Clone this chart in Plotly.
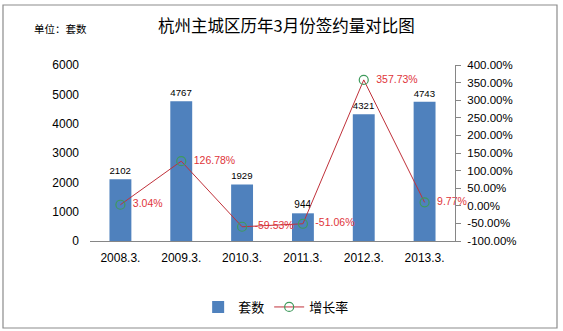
import plotly.graph_objects as go

categories = ["2008.3.", "2009.3.", "2010.3.", "2011.3.", "2012.3.", "2013.3."]
counts = [2102, 4767, 1929, 944, 4321, 4743]
growth = [3.04, 126.78, -59.53, -51.06, 357.73, 9.77]
left_ticks = [0, 1000, 2000, 3000, 4000, 5000, 6000]
right_ticks = [-100, -50, 0, 50, 100, 150, 200, 250, 300, 350, 400]

FONT = "Liberation Sans, Noto Sans CJK SC, sans-serif"
CJK = "Noto Sans CJK SC, sans-serif"

fig = go.Figure()
fig.add_trace(go.Bar(
    x=categories, y=counts, name="套数",
    marker=dict(color="#4f81bd", line=dict(width=0)),
    width=0.36,
    text=[str(v) for v in counts], textposition="outside",
    textfont=dict(family=FONT, size=10, color="#000000"),
    cliponaxis=False,
))
fig.add_trace(go.Scatter(
    x=categories, y=growth, name="增长率", yaxis="y2",
    mode="lines+markers+text",
    line=dict(color="#c0313a", width=1),
    marker=dict(symbol="circle-open", size=9, color="#3f9a5c", line=dict(width=1.2)),
    text=["\u00a0\u00a0" + f"{v:.2f}%" for v in growth], textposition="middle right",
    textfont=dict(family=FONT, size=10.5, color="#e0343a"),
    cliponaxis=False,
))

fig.update_layout(
    width=563, height=331,
    margin=dict(l=90, r=108, t=65, b=90, autoexpand=False),
    paper_bgcolor="white", plot_bgcolor="white",
    font=dict(family=FONT, size=11, color="#000000"),
    bargap=0.64,
    showlegend=True,
    legend=dict(orientation="h", x=0.51, xanchor="center", y=-0.375, yanchor="middle",
                font=dict(family=CJK, size=13), itemwidth=30, tracegroupgap=0),
    xaxis=dict(type="category", showline=True, linecolor="#868686", linewidth=1,
               ticks="", tickfont=dict(size=12), showgrid=False, zeroline=False,
               ticklabelstandoff=6, automargin=False),
    yaxis=dict(range=[0, 6000], tickvals=left_ticks, showgrid=False, zeroline=False,
               showline=False, ticks="", ticklabelstandoff=10, tickfont=dict(size=12),
               automargin=False),
    yaxis2=dict(overlaying="y", side="right", range=[-100, 400], tickvals=right_ticks,
                ticktext=[f"{v:.2f}%" for v in right_ticks],
                showgrid=False, zeroline=False, showline=True, linecolor="#868686",
                ticks="outside", ticklen=5, tickcolor="#868686", tickfont=dict(size=11.5),
                ticklabelstandoff=4, automargin=False),
    shapes=[dict(type="rect", xref="paper", yref="paper",
                 x0=-87/365, x1=467/365, y0=-87/176, y1=236/176,
                 line=dict(color="#8c8c8c", width=1.2), fillcolor="rgba(0,0,0,0)", layer="below")],
    annotations=[
        dict(text="杭州主城区历年3月份签约量对比图", xref="paper", yref="paper",
             x=(286-90)/365, y=(241-25)/176, xanchor="center", yanchor="middle",
             showarrow=False, font=dict(family=CJK, size=16.5, color="#000000")),
        dict(text="单位：套数", xref="paper", yref="paper",
             x=(32-90)/365, y=(241-28)/176, xanchor="left", yanchor="middle",
             showarrow=False, font=dict(family=CJK, size=10.5, color="#000000")),
    ],
)

fig.write_html("out.html")
